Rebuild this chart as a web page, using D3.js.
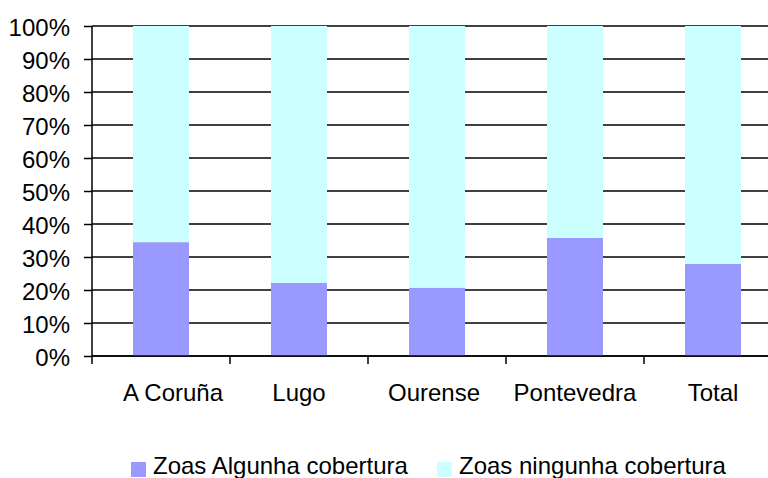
<!DOCTYPE html>
<html><head><meta charset="utf-8">
<script src="https://cdn.jsdelivr.net/npm/d3@7"></script>
<style>body{margin:0;background:#fff}svg{display:block;font-family:"Liberation Sans",Arial,sans-serif}</style>
</head><body>
<svg id="c" width="768" height="478"></svg>
<script>
const categories = ["A Coruña","Lugo","Ourense","Pontevedra","Total"];
const algunha = [34.5, 22.2, 20.7, 35.8, 27.9];
const ningunha = [65.5, 77.8, 79.3, 64.2, 72.1];
const yTicks = [0,10,20,30,40,50,60,70,80,90,100];
const seriesNames = ["Zoas Algunha cobertura","Zoas ningunha cobertura"];
const colors = ["#9999FF","#CCFFFF"];

(function(){
const svg = d3.select("#c");
const FS = 24;
const pL = 92, pR = 782, pT = 26, pB = 356;
const x = d3.scaleBand().domain(categories).range([pL, pR]).paddingInner(0).paddingOuter(0);
const y = d3.scaleLinear().domain([0,100]).range([pB, pT]);
const barW = 56;

// gridlines
svg.append("g").selectAll("line").data(yTicks).join("line")
  .attr("x1", pL).attr("x2", 768).attr("y1", d=>y(d)).attr("y2", d=>y(d))
  .attr("stroke","#000").attr("stroke-width",1.5);

// stacked bars
const data = categories.map((c,i)=>({c, a: algunha[i], n: ningunha[i]}));
const g = svg.append("g");
g.selectAll("rect.a").data(data).join("rect").attr("class","a")
  .attr("x", d=>x(d.c)+x.bandwidth()/2-barW/2).attr("width", barW)
  .attr("y", d=>y(d.a)).attr("height", d=>y(0)-y(d.a)).attr("fill", colors[0]);
g.selectAll("rect.n").data(data).join("rect").attr("class","n")
  .attr("x", d=>x(d.c)+x.bandwidth()/2-barW/2).attr("width", barW)
  .attr("y", d=>y(d.a+d.n)).attr("height", d=>y(d.a)-y(d.a+d.n)).attr("fill", colors[1]);

// y axis
const ya = d3.axisLeft(y).tickValues(yTicks).tickFormat(d=>d+"%").tickSize(8).tickPadding(14);
const yg = svg.append("g").attr("transform",`translate(${pL},0)`).call(ya);
yg.select(".domain").attr("stroke","#000").attr("stroke-width",1.5).attr("d",`M0,${pT}V${pB}`);
yg.selectAll(".tick line").attr("stroke","#000").attr("stroke-width",1.5);
yg.selectAll("text").attr("font-size",FS).attr("fill","#000").attr("dy","9.5px")
  .attr("font-family","Liberation Sans, Arial, sans-serif");

// x axis
const xTickPos = d3.range(categories.length+1).map(i=>pL + i*x.bandwidth());
svg.append("line").attr("x1",pL).attr("x2",768).attr("y1",pB).attr("y2",pB).attr("stroke","#000").attr("stroke-width",1.5);
svg.append("g").selectAll("line").data(xTickPos).join("line")
  .attr("x1",d=>d).attr("x2",d=>d).attr("y1",pB).attr("y2",pB+8)
  .attr("stroke","#000").attr("stroke-width",1.5);
const labelShift = [12, 0, -3, 0, 0];
svg.append("g").selectAll("text").data(categories).join("text")
  .attr("x", (d,i)=>x(d)+x.bandwidth()/2+labelShift[i]).attr("y", 401)
  .attr("text-anchor","middle").attr("font-size",FS).attr("fill","#000").text(d=>d);

// legend
const leg = svg.append("g");
const legX = [131, 437];
seriesNames.forEach((s,i)=>{
  leg.append("rect").attr("x",legX[i]).attr("y",462).attr("width",15).attr("height",15).attr("fill",colors[i]);
  leg.append("text").attr("x",legX[i]+22).attr("y",474).attr("font-size",FS).attr("fill","#000").text(s);
});
})();
</script>
</body></html>
